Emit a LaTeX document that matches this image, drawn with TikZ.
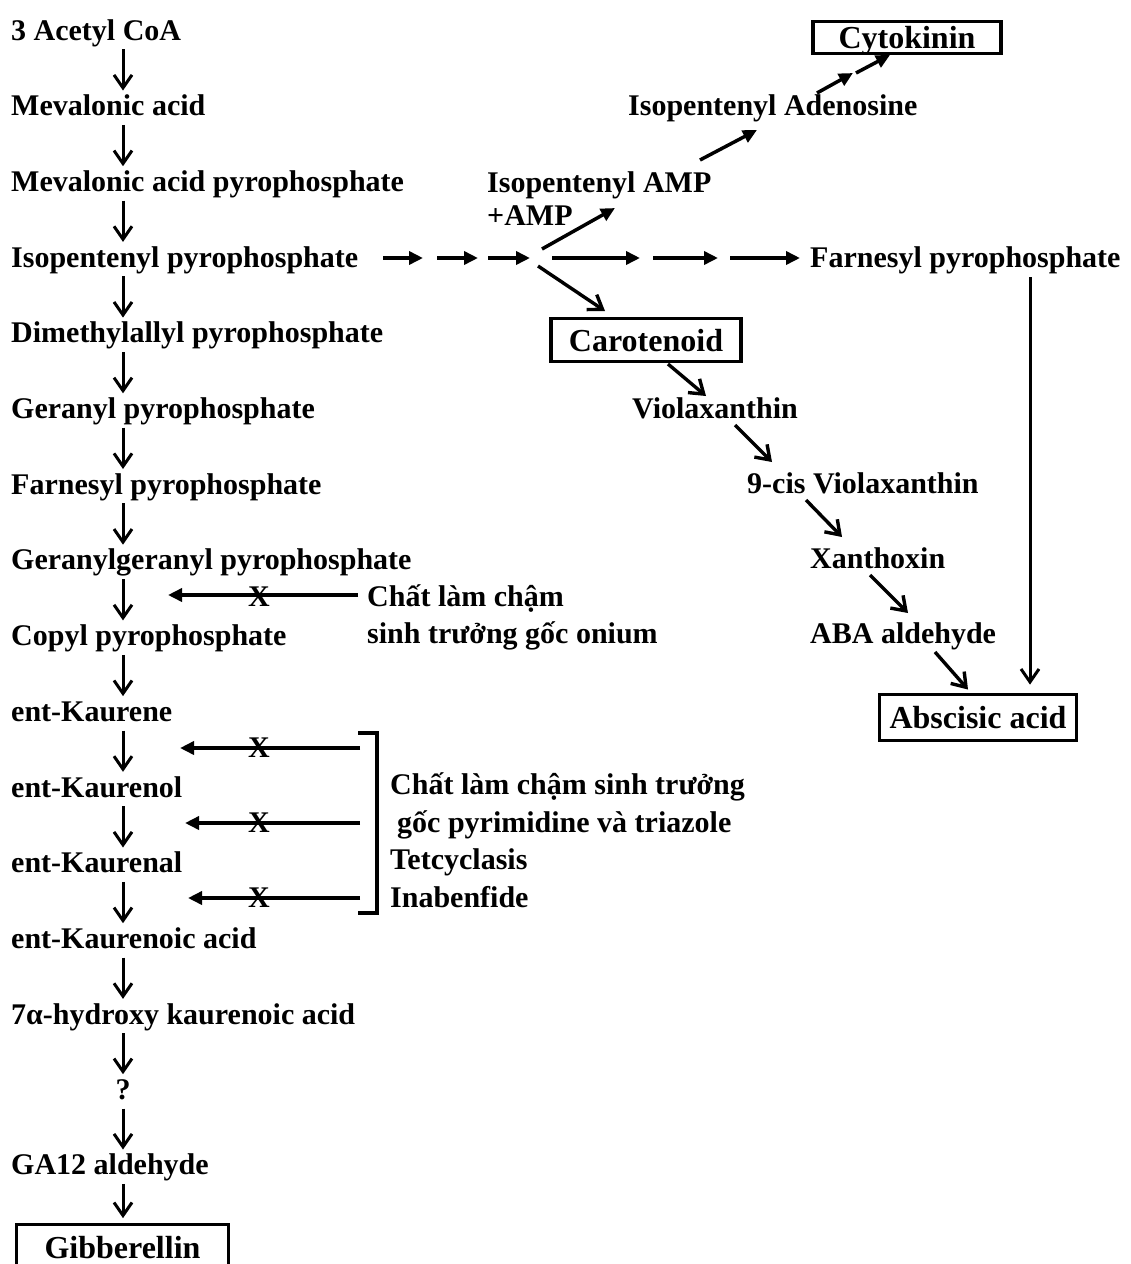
\documentclass[tikz,border=0pt]{standalone}
\usepackage{fontspec}
\setmainfont{Liberation Serif}
\usetikzlibrary{arrows.meta, positioning, calc}

\newcommand{\lbfont}{\fontsize{30}{36}\selectfont\bfseries}
\newcommand{\bxfont}{\fontsize{32}{38}\selectfont\bfseries}

\begin{document}
\begin{tikzpicture}[
  x=1pt, y=-1pt,
  lbl/.style={inner sep=0pt, anchor=west, font=\lbfont, text height=23pt, text depth=3pt},
  hbox/.style={draw, line width=3.8pt, font=\bxfont, inner sep=0pt, text height=25pt, text depth=3pt},
  varr/.style={-{Straight Barb[length=13pt, width=18pt]}, line width=3pt},
  darr/.style={varr, line width=3.4pt},
  farr/.style={-{Triangle[length=14pt, width=13pt]}, line width=3.5pt},
  xmark/.style={inner sep=0pt, font=\lbfont},
  brk/.style={line width=3.5pt}
]
\useasboundingbox (0,0) rectangle (1131,1264);

% main column
\coordinate (axis) at (123,0);
\node[lbl] (acoa) at (11,30) {3 Acetyl CoA};
\node[lbl, below=49.3pt of acoa.south west, anchor=north west] (mva) {Mevalonic acid};
\node[lbl, below=49.3pt of mva.south west, anchor=north west] (mvapp) {Mevalonic acid pyrophosphate};
\node[lbl, below=49.3pt of mvapp.south west, anchor=north west] (ipp) {Isopentenyl pyrophosphate};
\node[lbl, below=49.3pt of ipp.south west, anchor=north west] (dmapp) {Dimethylallyl pyrophosphate};
\node[lbl, below=49.3pt of dmapp.south west, anchor=north west] (gpp) {Geranyl pyrophosphate};
\node[lbl, below=49.3pt of gpp.south west, anchor=north west] (fpp) {Farnesyl pyrophosphate};
\node[lbl, below=49.3pt of fpp.south west, anchor=north west] (ggpp) {Geranylgeranyl pyrophosphate};
\node[lbl, below=49.3pt of ggpp.south west, anchor=north west] (cpp) {Copyl pyrophosphate};
\node[lbl, below=49.3pt of cpp.south west, anchor=north west] (kene) {ent-Kaurene};
\node[lbl, below=49.3pt of kene.south west, anchor=north west] (kol) {ent-Kaurenol};
\node[lbl, below=49.3pt of kol.south west, anchor=north west] (kal) {ent-Kaurenal};
\node[lbl, below=49.3pt of kal.south west, anchor=north west] (kacid) {ent-Kaurenoic acid};
\node[lbl, below=49.3pt of kacid.south west, anchor=north west] (hka) {7α-hydroxy kaurenoic acid};
\node[lbl, anchor=center] (unk) at ($(hka.west -| axis)+(0,75.3)$) {?};
\node[lbl] (ga12) at ($(hka.west)+(0,150.6)$) {GA12 aldehyde};
\node[hbox, minimum width=212pt, minimum height=46pt] (gib) at (122.5,1247.5) {Gibberellin};

\foreach \a/\b in {acoa/mva, mva/mvapp, mvapp/ipp, ipp/dmapp, dmapp/gpp, gpp/fpp,
                   fpp/ggpp, ggpp/cpp, cpp/kene, kene/kol, kol/kal, kal/kacid,
                   kacid/hka, hka/unk, unk/ga12}
  \draw[varr, shorten <=6pt, shorten >=2pt] (\a.south -| axis) -- (\b.north -| axis);
\draw[varr, shorten <=6pt, shorten >=4.5pt] (ga12.south -| axis) -- (gib.north -| axis);

% cytokinin / ABA side
\node[hbox, minimum width=188pt, minimum height=32pt] (cyto) at (907,37.5) {Cytokinin};
\node[lbl] (aden) at (628,105) {Isopentenyl Adenosine};
\node[lbl] (amp) at (487,182) {Isopentenyl AMP};
\node[lbl] (pamp) at (487,215) {+AMP};
\node[lbl] (fpp2) at (810,257) {Farnesyl pyrophosphate};
\node[hbox, minimum width=190pt, minimum height=43pt] (caro) at (646,340) {Carotenoid};
\node[lbl] (viola) at (632,408) {Violaxanthin};
\node[lbl] (cviola) at (747,483) {9-cis Violaxanthin};
\node[lbl] (xan) at (810,558) {Xanthoxin};
\node[lbl] (abaald) at (810,633) {ABA aldehyde};
\node[hbox, minimum width=197pt, minimum height=46pt] (aba) at (978,717.5) {Abscisic acid};

\coordinate (fork) at (541,258);
\foreach \a/\b in {-158/-118, -104/-63, -53/-11, 11/99, 112/177, 189/259}
  \draw[farr] ([xshift=\a pt]fork) -- ([xshift=\b pt]fork);
\draw[farr] ([shift={(1,-9)}]fork) -- ([shift={(128,26)}]amp.west);
\draw[darr] ([shift={(-3,8)}]fork) -- ([shift={(-41,-29)}]caro.center);

\draw[farr] ([shift={(213,-22)}]amp.west) -- ([shift={(129,25)}]aden.west);
\coordinate (cmid) at ([shift={(225,-32)}]aden.west);
\draw[farr] ([shift={(189,-12)}]aden.west) -- (cmid);
\draw[farr] ([xshift=3pt]cmid) -- ([shift={(-17,17.5)}]cyto.center);

\draw[darr] ([shift={(22,24)}]caro.center) -- ([shift={(74,-12)}]viola.west);
\draw[darr] ([shift={(103,17)}]viola.west) -- ([shift={(25,-21)}]cviola.west);
\draw[darr] ([shift={(59,17)}]cviola.west) -- ([shift={(32,-21)}]xan.west);
\draw[darr] ([shift={(60,17)}]xan.west) -- ([shift={(98,-20)}]abaald.west);
\draw[darr] ([shift={(125,19)}]abaald.west) -- ([shift={(-10,-28)}]aba.center);
\coordinate (fdrop) at ([shift={(220,20)}]fpp2.west);
\draw[varr, shorten >=8pt] (fdrop) -- (fdrop |- aba.north);

% inhibitors
\node[lbl] (onium1) at (367,596) {Chất làm chậm};
\node[lbl] (onium2) at (367,633) {sinh trưởng gốc onium};
\coordinate (otip) at (168,595);
\draw[farr] ([shift={(-9,-1)}]onium1.west) -- (otip);
\node[xmark] (ox) at (259,597) {X};

\node[lbl] (pyr1) at (390,784) {Chất làm chậm sinh trưởng};
\node[lbl] (pyr2) at (397,822) {gốc pyrimidine và triazole};
\node[lbl] (tet) at (390,859) {Tetcyclasis};
\node[lbl] (inab) at (390,897) {Inabenfide};

\coordinate (brtop) at (377,733);
\coordinate (brbot) at (377,913);
\draw[brk] ([xshift=-19pt]brtop) -- (brtop) -- (brbot) -- ([xshift=-19pt]brbot);
\foreach \i/\yy/\tx in {1/748/180, 2/823/185, 3/898/188} {
  \coordinate (bs\i) at (360,\yy);
  \coordinate (bt\i) at (\tx,\yy);
  \draw[farr] (bs\i) -- (bt\i);
  \node[xmark] (bx\i) at (259,\yy) {X};
}
\end{tikzpicture}
\end{document}
